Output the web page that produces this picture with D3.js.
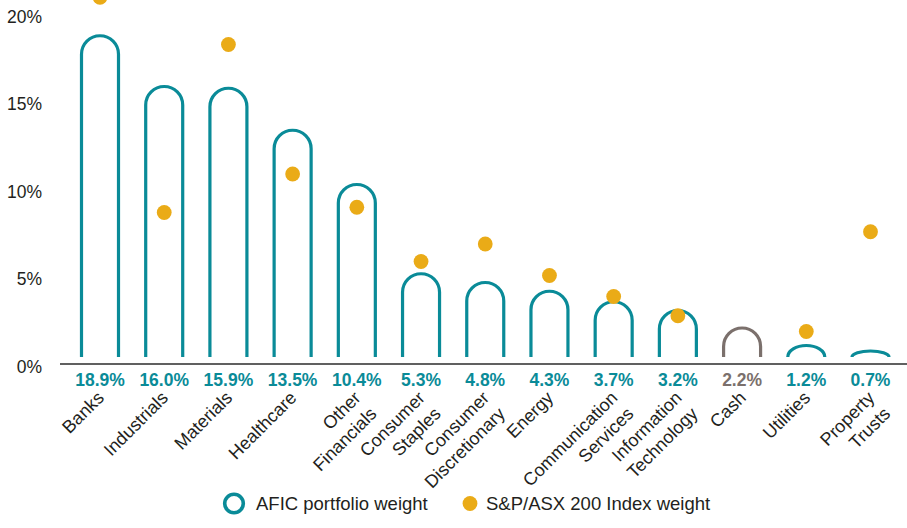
<!DOCTYPE html>
<html>
<head>
<meta charset="utf-8">
<script src="https://cdn.jsdelivr.net/npm/d3@7"></script>
<style>
  body { margin: 0; background: #fff; }
  text { font-family: "Liberation Sans", Arial, sans-serif; }
</style>
</head>
<body>
<svg id="chart"></svg>
<script>
// sector names (split into lines as printed)
var sectors = [
  ["Banks"], ["Industrials"], ["Materials"], ["Healthcare"], ["Other", "Financials"],
  ["Consumer", "Staples"], ["Consumer", "Discretionary"], ["Energy"],
  ["Communication", "Services"], ["Information", "Technology"], ["Cash"],
  ["Utilities"], ["Property", "Trusts"]
];
// AFIC portfolio weight (%)
var aficWeight = [18.9, 16.0, 15.9, 13.5, 10.4, 5.3, 4.8, 4.3, 3.7, 3.2, 2.2, 1.2, 0.7];
// S&P/ASX 200 index weight (%), no value for cash
var indexWeight = [21.1, 8.8, 18.4, 11.0, 9.1, 6.0, 7.0, 5.2, 4.0, 2.9, null, 2.0, 7.7];
var yTicks = [0, 5, 10, 15, 20];

var width = 907;
var height = 528;
var teal = '#0a8b98';
var gold = '#eaab17';
var grey = '#7b706c';
var ink = '#231f20';

var svg = d3.select('#chart')
    .attr('width', width)
    .attr('height', height);

var keys = sectors.map(d => d.join(' '));
var x = d3.scalePoint()
          .domain(keys)
          .range([100, 870.5]);
var y = d3.scaleLinear()
          .domain([0, 20])
          .range([366.5, 16.5]);

// y tick labels
svg.append('g')
  .selectAll('text')
  .data(yTicks)
  .enter()
  .append('text')
    .attr('x', 42)
    .attr('y', d => y(d) + 6)
    .attr('text-anchor', 'end')
    .attr('font-size', 17.5)
    .attr('fill', ink)
    .text(d => d + '%');

// baseline
svg.append('line')
    .attr('x1', 60)
    .attr('x2', width)
    .attr('y1', y(0) - 2.5)
    .attr('y2', y(0) - 2.5)
    .attr('stroke', '#2b2b2b')
    .attr('stroke-width', 1.3);

//the arches: rounded top at the value, legs stop just above the baseline
var r = 18.5;
var legEnd = y(0) - 9.5;
function arch(cx, top) {
  var h = legEnd - top;
  if (h >= r) {
    return 'M' + (cx - r) + ',' + legEnd + 'V' + (top + r) +
           'A' + r + ',' + r + ' 0 0 1 ' + (cx + r) + ',' + (top + r) + 'V' + legEnd;
  }
  var ry = Math.max(h, 6);
  return 'M' + (cx - r) + ',' + legEnd +
         'A' + r + ',' + ry + ' 0 0 1 ' + (cx + r) + ',' + legEnd;
}

svg.append('g')
  .selectAll('path')
  .data(aficWeight)
  .enter()
  .append('path')
    .attr('d', (d, i) => arch(x(keys[i]), y(d)))
    .attr('fill', 'none')
    .attr('stroke', (d, i) => keys[i] === 'Cash' ? grey : teal)
    .attr('stroke-width', 3.2);

// index dots
svg.append('g')
  .selectAll('circle')
  .data(indexWeight.map((v, i) => ({ key: keys[i], v: v })).filter(d => d.v !== null))
  .enter()
  .append('circle')
    .attr('cx', d => x(d.key))
    .attr('cy', d => y(d.v))
    .attr('r', 7.4)
    .attr('fill', gold);

// value labels under the baseline
svg.append('g')
  .selectAll('text')
  .data(aficWeight)
  .enter()
  .append('text')
    .attr('x', (d, i) => x(keys[i]))
    .attr('y', 385.5)
    .attr('text-anchor', 'middle')
    .attr('font-size', 17.5)
    .attr('font-weight', 'bold')
    .attr('fill', (d, i) => keys[i] === 'Cash' ? grey : teal)
    .text(d => d.toFixed(1) + '%');

// rotated category labels
var cat = svg.append('g')
  .selectAll('text')
  .data(sectors)
  .enter()
  .append('text')
    .attr('transform', (d, i) => 'translate(' + (x(keys[i]) + 5) + ',399) rotate(-45)')
    .attr('text-anchor', 'end')
    .attr('font-size', 18)
    .attr('fill', ink);
cat.selectAll('tspan')
  .data(d => d)
  .enter()
  .append('tspan')
    .attr('x', 0)
    .attr('dy', (d, i) => i === 0 ? 0 : '1.25em')
    .text(d => d);

// legend
var legend = svg.append('g');
legend.append('circle')
    .attr('cx', 234)
    .attr('cy', 503.5)
    .attr('r', 9.3)
    .attr('fill', 'none')
    .attr('stroke', teal)
    .attr('stroke-width', 3.6);
legend.append('text')
    .attr('x', 256)
    .attr('y', 510)
    .attr('font-size', 18.5)
    .attr('fill', ink)
    .text('AFIC portfolio weight');
legend.append('circle')
    .attr('cx', 470)
    .attr('cy', 503.5)
    .attr('r', 7.4)
    .attr('fill', gold);
legend.append('text')
    .attr('x', 486)
    .attr('y', 510)
    .attr('font-size', 18.5)
    .attr('fill', ink)
    .text('S&P/ASX 200 Index weight');
</script>
</body>
</html>
